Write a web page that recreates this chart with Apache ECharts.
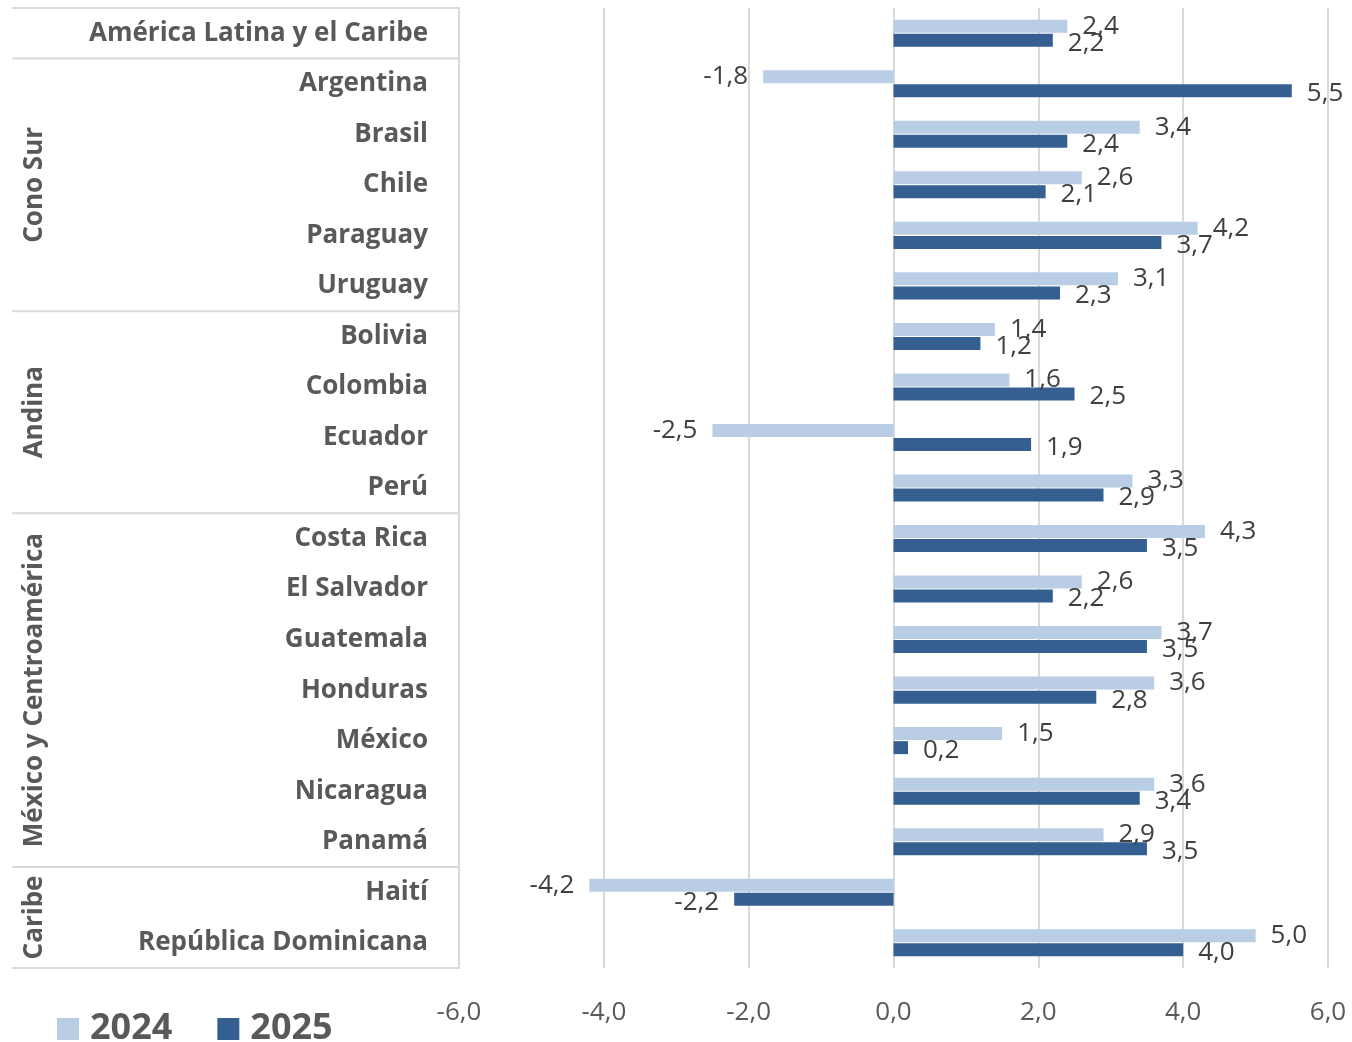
<!DOCTYPE html>
<html>
<head>
<meta charset="utf-8">
<script src="https://cdn.jsdelivr.net/npm/echarts@6/dist/echarts.min.js"></script>
<style>
  html, body { margin: 0; padding: 0; background: #fff; }
  #main { width: 1352px; height: 1042px; }
</style>
</head>
<body>
<div id="main"></div>
<script>
const countries = [
  'América Latina y el Caribe',
  'Argentina', 'Brasil', 'Chile', 'Paraguay', 'Uruguay',
  'Bolivia', 'Colombia', 'Ecuador', 'Perú',
  'Costa Rica', 'El Salvador', 'Guatemala', 'Honduras', 'México', 'Nicaragua', 'Panamá',
  'Haití', 'República Dominicana'
]
const values2024 = [2.4, -1.8, 3.4, 2.6, 4.2, 3.1, 1.4, 1.6, -2.5, 3.3, 4.3, 2.6, 3.7, 3.6, 1.5, 3.6, 2.9, -4.2, 5.0]
const values2025 = [2.2, 5.5, 2.4, 2.1, 3.7, 2.3, 1.2, 2.5, 1.9, 2.9, 3.5, 2.2, 3.5, 2.8, 0.2, 3.4, 3.5, -2.2, 4.0]
const groupNames = ['', 'Cono Sur', 'Andina', 'México y Centroamérica', 'Caribe']
const groupSizes = [1, 5, 4, 7, 2]
const xTicks = [-6, 6, 2] // min, max, step

const FONT = '"Open Sans", sans-serif'
const TEXT = '#595959'
const LINE = '#D9D9D9'

const fmt = (v) => Number(v).toFixed(1).replace('.', ',')

const chart = echarts.init(document.getElementById('main'))

// labels sit at the outside end of each bar (left of negative bars)
const barData = (values) => values.map((v) => (
  v < 0 ? { value: v, label: { position: 'left' } } : v
))

const barLabel = (dy) => ({
  show: true,
  position: 'right',
  distance: 15,
  offset: [0, dy],
  fontFamily: FONT,
  fontSize: 26,
  color: '#404040',
  formatter: (p) => fmt(p.value)
})

const option = {
  animation: false,
  backgroundColor: '#fff',
  grid: { left: 459, right: 24, top: 8, bottom: 74 },
  legend: {
    data: ['2024', '2025'],
    left: 52,
    top: 1006,
    icon: 'rect',
    itemWidth: 22,
    itemHeight: 22,
    itemGap: 45,
    textStyle: { fontFamily: FONT, fontSize: 36, fontWeight: 'bold', color: TEXT, padding: [0, 0, 0, 6] }
  },
  xAxis: {
    type: 'value',
    min: xTicks[0],
    max: xTicks[1],
    interval: xTicks[2],
    axisLine: { show: false },
    axisTick: { show: false },
    splitLine: { lineStyle: { color: LINE, width: 2 } },
    axisLabel: { fontFamily: FONT, fontSize: 26, color: TEXT, margin: 32, formatter: fmt }
  },
  yAxis: {
    type: 'category',
    inverse: true,
    data: countries,
    axisLine: { onZero: false, lineStyle: { color: LINE, width: 2 } },
    axisTick: { show: false },
    axisLabel: { fontFamily: FONT, fontSize: 26, fontWeight: 'bold', color: TEXT, margin: 31 }
  },
  series: [
    {
      name: '2024',
      type: 'bar',
      data: barData(values2024),
      barWidth: 13,
      barGap: '8%',
      itemStyle: { color: '#B9CDE5' },
      label: barLabel(0)
    },
    {
      name: '2025',
      type: 'bar',
      data: barData(values2025),
      barWidth: 13,
      barGap: '8%',
      itemStyle: { color: '#355F91' },
      label: barLabel(3)
    }
  ]
}

chart.setOption(option)

// table lines and group labels on the left, placed from the category axis
const drawGroups = () => {
  const c0 = chart.convertToPixel({ yAxisIndex: 0 }, countries[0])
  const c1 = chart.convertToPixel({ yAxisIndex: 0 }, countries[1])
  const band = c1 - c0
  const left = 12
  const right = option.grid.left
  const elements = []
  let start = 0
  groupSizes.forEach((size, i) => {
    const top = chart.convertToPixel({ yAxisIndex: 0 }, countries[start]) - band / 2
    const bottom = chart.convertToPixel({ yAxisIndex: 0 }, countries[start + size - 1]) + band / 2
    elements.push({
      type: 'line',
      shape: { x1: left, y1: top, x2: right, y2: top },
      style: { stroke: LINE, lineWidth: 2 },
      silent: true
    })
    if (i === groupSizes.length - 1) {
      elements.push({
        type: 'line',
        shape: { x1: left, y1: bottom, x2: right, y2: bottom },
        style: { stroke: LINE, lineWidth: 2 },
        silent: true
      })
    }
    if (groupNames[i]) {
      elements.push({
        type: 'text',
        x: 35,
        y: (top + bottom) / 2,
        rotation: Math.PI / 2,
        style: {
          text: groupNames[i],
          fontFamily: FONT,
          fontSize: 26,
          fontWeight: 'bold',
          fill: TEXT,
          align: 'center',
          verticalAlign: 'middle'
        },
        silent: true
      })
    }
    start += size
  })
  chart.setOption({ graphic: { elements } })
}

drawGroups()
</script>
</body>
</html>
